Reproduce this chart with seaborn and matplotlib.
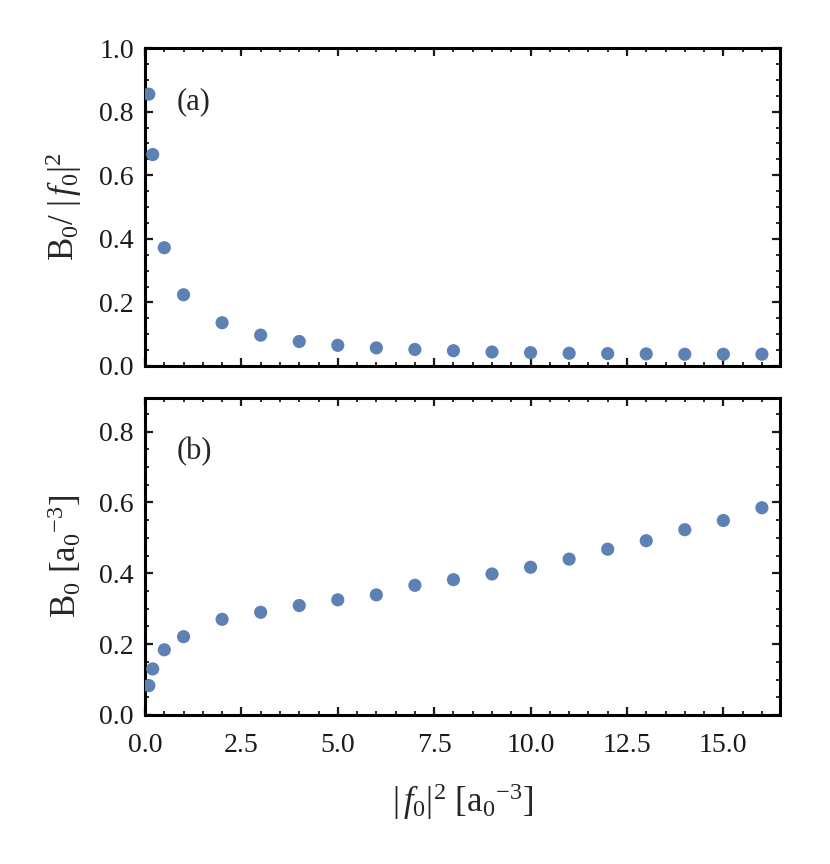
import numpy as np
import pandas as pd
import seaborn as sns
import matplotlib.pyplot as plt
from matplotlib.ticker import MultipleLocator

# data
f0_sq = [0.1, 0.2, 0.5, 1, 2, 3, 4, 5, 6, 7, 8, 9, 10, 11, 12, 13, 14, 15, 16]
ratio = [0.855, 0.665, 0.372, 0.224, 0.136, 0.097, 0.077, 0.065, 0.057, 0.052,
         0.048, 0.044, 0.042, 0.040, 0.039, 0.038, 0.037, 0.037, 0.037]
b0 = [0.083, 0.130, 0.184, 0.221, 0.270, 0.290, 0.309, 0.325, 0.339, 0.366,
      0.382, 0.398, 0.417, 0.440, 0.468, 0.492, 0.523, 0.549, 0.585]

df = pd.DataFrame({'f0_sq': f0_sq, 'ratio': ratio, 'b0': b0})

sns.set_style('ticks')
plt.rcParams['font.family'] = ['Liberation Serif', 'DejaVu Serif']
plt.rcParams['mathtext.fontset'] = 'custom'
plt.rcParams['mathtext.rm'] = 'Liberation Serif'
plt.rcParams['mathtext.it'] = 'Liberation Serif:italic'

color = '#5E81B5'

fig = plt.figure(figsize=(8.3, 8.64), dpi=100)
ax1 = fig.add_axes([0.1747, 0.5764, 0.7651, 0.368])
ax2 = fig.add_axes([0.1747, 0.1725, 0.7651, 0.3669])

sns.scatterplot(data=df, x='f0_sq', y='ratio', ax=ax1, color=color, s=90,
                edgecolor='none', zorder=3)
sns.scatterplot(data=df, x='f0_sq', y='b0', ax=ax2, color=color, s=90,
                edgecolor='none', zorder=3)

ax1.set_ylim(0, 1.0)
ax2.set_ylim(0, 0.895)
for ax in (ax1, ax2):
    ax.set_xlim(0, 16.47)
    ax.xaxis.set_major_locator(MultipleLocator(2.5))
    ax.xaxis.set_minor_locator(MultipleLocator(0.5))
    ax.yaxis.set_major_locator(MultipleLocator(0.2))
    ax.yaxis.set_minor_locator(MultipleLocator(0.05))
    ax.tick_params(which='both', direction='in', top=True, right=True,
                   labelsize=20, colors='#1a1a1a', width=1.6)
    ax.tick_params(which='major', length=6)
    ax.tick_params(which='minor', length=3, width=1.3)
    ax.tick_params(axis='y', which='major', pad=8)
    ax.tick_params(axis='x', which='major', pad=13)
    for sp in ax.spines.values():
        sp.set_linewidth(2.2)
        sp.set_color('black')
    ax.xaxis.set_major_formatter(plt.FuncFormatter(lambda v, p: f'{v:.1f}'))
    ax.yaxis.set_major_formatter(plt.FuncFormatter(lambda v, p: f'{v:.1f}'))

ax1.tick_params(labelbottom=False)
ax1.set_xlabel('')
ax1.set_ylabel(r'B$_0$/ |$\,f_0$|$^2$', fontsize=25, labelpad=11)
ax2.set_ylabel(r'B$_0$ [a$_0$$^{-3}$]', fontsize=25, labelpad=11)
ax2.set_xlabel(r'|$\,f_0$|$^2$ [a$_0$$^{-3}$]', fontsize=25, labelpad=17)

ax1.text(0.05, 0.83, '(a)', transform=ax1.transAxes, fontsize=22, va='center')
ax2.text(0.05, 0.83, '(b)', transform=ax2.transAxes, fontsize=22, va='center')

fig.savefig('out.png', dpi=100)
